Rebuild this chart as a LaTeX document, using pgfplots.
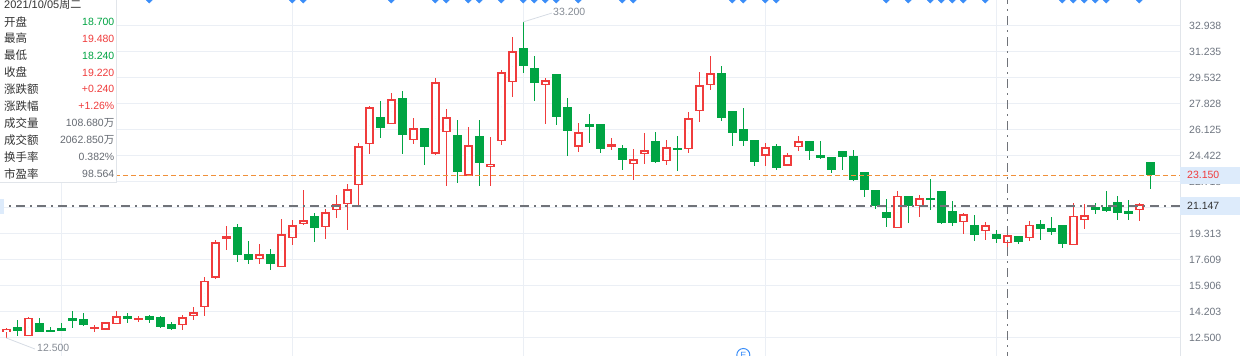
\documentclass[border=0pt]{standalone}
\usepackage{pgfplots}
\usepackage{pgfplotstable}
\pgfplotsset{compat=1.18}
\usepackage{fontspec}
\setmainfont{Liberation Sans}
\newfontfamily\cjk{Noto Sans CJK SC}
\definecolor{upred}{HTML}{F03C3C}
\definecolor{dngreen}{HTML}{00A443}
\definecolor{gridc}{HTML}{EBEFF5}
\definecolor{tickgray}{HTML}{6E7580}
\definecolor{crossgray}{HTML}{707379}
\definecolor{orangeln}{HTML}{F0903A}
\definecolor{dblue}{HTML}{3A8DF8}
\definecolor{labelbg}{HTML}{DDEBFB}
\definecolor{boxborder}{HTML}{E1E5EA}
\definecolor{darktxt}{HTML}{333333}
\definecolor{valgray}{HTML}{666B73}
\definecolor{annogray}{HTML}{858B94}
\definecolor{annoline}{HTML}{D6DCE4}

\pgfplotstableread{
i o h l c
0 12.87 13.18 12.50 13.09
2 12.61 13.90 12.61 13.83
8 13.07 13.35 12.91 13.22
9 13.05 13.53 13.00 13.53
10 13.40 14.27 13.40 13.92
12 13.68 13.94 13.53 13.81
16 13.33 13.98 13.02 13.85
17 13.92 14.53 13.66 14.18
18 14.51 16.47 13.96 16.26
19 16.45 18.90 16.39 18.77
20 19.01 19.86 18.29 19.16
23 17.65 18.68 17.37 18.00
25 17.13 20.27 17.13 19.31
26 19.03 20.23 18.57 19.90
27 19.95 22.19 19.88 20.21
29 19.75 20.93 18.96 20.75
30 20.86 21.86 20.38 21.25
31 21.25 22.59 19.57 22.24
32 22.50 25.25 21.21 25.07
33 25.18 27.69 24.57 27.61
35 26.49 28.54 26.49 28.15
37 25.44 26.91 25.23 26.23
39 24.57 29.50 24.48 29.24
40 25.97 27.50 22.48 26.95
42 23.11 26.32 23.11 25.12
44 23.70 25.66 22.48 23.90
45 25.38 30.03 25.16 29.90
46 29.24 32.21 28.30 31.27
49 29.05 29.50 26.54 29.37
52 25.01 26.58 24.70 25.97
55 24.99 25.60 24.79 25.18
57 23.87 24.88 22.87 24.20
58 24.53 25.93 23.87 24.79
60 24.07 25.47 23.85 24.99
62 24.86 27.30 24.64 26.89
63 27.34 29.92 26.67 29.05
64 29.05 30.97 28.76 29.83
69 24.44 25.25 23.76 24.99
71 23.79 24.59 23.79 24.46
72 24.99 25.71 24.72 25.38
81 19.68 22.13 19.68 21.80
83 21.12 21.87 20.45 21.65
87 20.07 20.66 19.31 20.62
89 19.49 20.10 18.92 19.88
91 18.70 19.48 18.24 19.22
93 19.03 20.14 18.83 19.92
97 18.57 21.34 18.57 20.51
98 20.21 21.27 19.66 20.53
103 20.86 21.34 20.18 21.25
}\upT

\pgfplotstableread{
i o h l c
1 13.24 13.68 12.65 12.98
3 13.46 13.83 12.91 12.91
4 12.98 13.22 12.91 12.93
5 13.15 13.46 12.98 12.98
6 13.81 14.27 13.18 13.64
7 13.74 14.12 13.29 13.37
11 13.94 14.12 13.50 13.72
13 13.92 14.01 13.50 13.66
14 13.88 13.94 13.13 13.24
15 13.42 13.53 13.00 13.07
21 19.75 19.99 17.50 17.96
22 18.00 18.85 17.37 17.63
24 18.00 18.33 16.93 17.33
28 20.49 20.71 18.81 19.73
34 26.97 28.04 25.62 26.27
36 28.22 28.70 24.57 25.82
38 26.25 26.25 23.85 25.03
41 25.79 26.78 22.67 23.39
43 25.73 26.78 22.48 23.98
47 31.49 33.20 29.83 30.33
48 30.18 30.97 28.04 29.22
50 29.79 29.79 26.47 27.00
51 27.63 28.22 24.44 26.08
53 26.51 27.17 25.29 26.34
54 26.51 26.51 24.64 24.90
56 24.94 25.14 23.52 24.18
59 25.40 25.99 23.98 24.05
61 24.94 25.73 23.46 24.79
65 29.83 30.31 26.73 26.93
66 27.37 27.37 25.07 25.95
67 26.17 27.56 25.07 25.42
68 25.47 25.47 23.76 24.05
70 25.07 25.20 23.52 23.65
73 25.40 25.40 24.16 24.77
74 24.46 25.40 24.22 24.31
75 24.35 24.35 23.33 23.52
76 24.75 24.75 23.52 24.38
77 24.42 24.81 22.80 22.87
78 23.37 23.37 21.76 22.21
79 22.19 22.19 20.97 21.17
80 20.73 21.58 19.79 20.38
82 21.80 21.80 20.01 21.12
84 21.67 22.91 20.90 21.52
85 22.10 22.10 19.94 20.05
86 20.82 21.47 19.83 20.05
88 19.88 20.53 18.87 19.27
90 19.29 19.57 18.74 18.98
92 19.16 19.16 18.63 18.77
94 19.97 20.23 18.94 19.66
95 19.70 20.40 19.25 19.46
96 19.88 19.88 18.37 18.68
99 21.08 21.34 20.60 20.86
100 21.08 22.13 20.73 20.84
101 21.41 21.80 20.25 20.71
102 20.82 21.52 20.25 20.60
104 24.03 24.03 22.28 23.15
}\dnT

\pgfplotsset{candle/.style={only marks, mark size=0pt, mark options={draw=none, fill=none}, forget plot,
  error bars/.cd, y dir=both, y explicit, error mark=none}}

\begin{document}
\begin{tikzpicture}
\begin{axis}[
  at={(0pt,0pt)}, anchor=north west,
  scale only axis, width=1180pt, height=356pt,
  xmin=-0.573, xmax=106.70, ymin=11.321, ymax=34.635,
  axis line style={draw=none},
  major tick length=0pt,
  xtick={5,26,47,69,90}, xticklabels={},
  ytick={12.5,14.203,15.906,17.609,19.313,21.015,22.718,24.422,26.125,27.828,29.532,31.235,32.938},
  yticklabels={12.500,14.203,15.906,17.609,19.313,21.015,22.718,24.422,26.125,27.828,29.532,31.235,32.938},
  yticklabel pos=right,
  yticklabel style={anchor=west, inner sep=0pt, xshift=9pt, font=\fontsize{10.5}{12}\selectfont, text=tickgray},
  grid=major, grid style={gridc, line width=1pt},
]
% red (up) candles
\addplot[candle, error bar style={draw=upred, line width=1.4pt, solid}]
  table[x=i, y expr={(\thisrow{h}+\thisrow{l})/2}, y error expr={(\thisrow{h}-\thisrow{l})/2}] {\upT};
\addplot[candle, error bar style={draw=upred, line width=8.6pt, solid}]
  table[x=i, y expr={(\thisrow{o}+\thisrow{c})/2}, y error expr={max(abs(\thisrow{c}-\thisrow{o})/2,0.045)}] {\upT};
\addplot[candle, error bar style={draw=white, line width=5.6pt, solid}]
  table[x=i, y expr={(\thisrow{o}+\thisrow{c})/2}, y error expr={max(abs(\thisrow{c}-\thisrow{o})/2-0.098,0)}] {\upT};
% green (down) candles
\addplot[candle, error bar style={draw=dngreen, line width=1.4pt, solid}]
  table[x=i, y expr={(\thisrow{h}+\thisrow{l})/2}, y error expr={(\thisrow{h}-\thisrow{l})/2}] {\dnT};
\addplot[candle, error bar style={draw=dngreen, line width=8.6pt, solid}]
  table[x=i, y expr={(\thisrow{o}+\thisrow{c})/2}, y error expr={max(abs(\thisrow{c}-\thisrow{o})/2,0.045)}] {\dnT};
% reference lines
\addplot[orangeln, line width=1.2pt, dash pattern=on 5pt off 3pt, forget plot] coordinates {(-1,23.15) (108,23.15)};
\addplot[crossgray, line width=1.2pt, dash pattern=on 9pt off 5pt on 2pt off 5pt, forget plot] coordinates {(-1,21.147) (108,21.147)};
\addplot[crossgray, line width=1.2pt, dash pattern=on 9pt off 5pt on 2pt off 5pt, forget plot] coordinates {(91,11) (91,35)};
% event markers at top
\addplot[only marks, mark=square*, mark size=2.2pt, mark options={rotate=45, fill=dblue, draw=dblue}, forget plot]
 coordinates {(13,34.635) (26,34.635) (27,34.635) (35,34.635) (39,34.635) (40,34.635) (42,34.635) (43,34.635) (45,34.635) (47,34.635) (48,34.635) (49,34.635) (50,34.635) (52,34.635) (56,34.635) (57,34.635) (66,34.635) (67,34.635) (69,34.635) (70,34.635) (80,34.635) (82,34.635) (84,34.635) (85,34.635) (86,34.635) (87,34.635) (89,34.635) (96,34.635) (97,34.635) (98,34.635) (99,34.635) (100,34.635) (103,34.635)};
% annotations
\draw[annoline, line width=0.8pt] (axis cs:47,33.2) -- (axis cs:49.6,33.78);
\node[anchor=west, inner sep=0pt, text=annogray, font=\fontsize{10.5}{12}\selectfont] at (axis cs:49.7,33.83) {33.200};
\draw[annoline, line width=0.8pt] (axis cs:0,12.5) -- (axis cs:2.6,11.78);
\node[anchor=west, inner sep=0pt, text=annogray, font=\fontsize{10.5}{12}\selectfont] at (axis cs:2.79,11.845) {12.500};
\node[circle, draw=dblue, line width=1pt, text=dblue, inner sep=0pt, minimum size=13pt, font=\fontsize{9}{9}\selectfont] at (axis cs:67,11.387) {E};
\end{axis}
% right axis border
\draw[boxborder, line width=1pt] (1180pt,0pt) -- (1180pt,-356pt);
% highlighted price labels
\fill[labelbg] (1180pt,-166.5pt) rectangle (1240pt,-183.5pt);
\node[anchor=west, inner sep=0pt, text=upred, font=\fontsize{10.5}{12}\selectfont] at (1187pt,-175pt) {23.150};
\fill[labelbg] (1180pt,-197pt) rectangle (1240pt,-215pt);
\node[anchor=west, inner sep=0pt, text=darktxt, font=\fontsize{10.5}{12}\selectfont] at (1187pt,-206pt) {21.147};
\fill[labelbg] (0pt,-199pt) rectangle (4pt,-214pt);
% tooltip box
\fill[white] (0pt,0pt) rectangle (116pt,-182pt);
\draw[boxborder, line width=1pt] (116pt,0pt) -- (116pt,-182pt) -- (0pt,-182pt);
\node[anchor=west, inner sep=0pt, text=darktxt, font=\fontsize{11}{12}\selectfont] at (4pt,-4.5pt) {2021/10/05{\cjk 周二}};
\begin{scope}[every node/.style={inner sep=0pt}]
\foreach \lab/\val/\col [count=\k from 0] in {开盘/18.700/dngreen, 最高/19.480/upred, 最低/18.240/dngreen, 收盘/19.220/upred, 涨跌额/+0.240/upred, 涨跌幅/+1.26\%/upred, 成交量/108.680{\cjk 万}/valgray, 成交额/2062.850{\cjk 万}/valgray, 换手率/0.382\%/valgray, 市盈率/98.564/valgray}{
  \node[anchor=west, text=darktxt, font=\cjk\fontsize{11.5}{12}\selectfont] at (4pt,{-21.7pt-16.9pt*\k}) {\lab};
  \node[anchor=east, text=\col, font=\fontsize{10.5}{12}\selectfont] at (114.5pt,{-21.7pt-16.9pt*\k}) {\val};
}
\end{scope}
\pgfresetboundingbox
\useasboundingbox (0pt,0pt) rectangle (1240pt,-356pt);
\end{tikzpicture}
\end{document}
